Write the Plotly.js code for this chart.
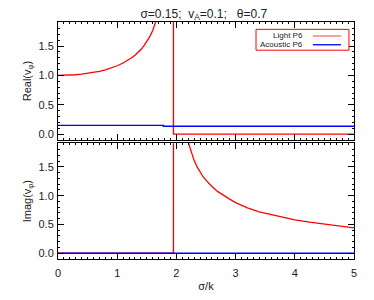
<!DOCTYPE html>
<html>
<head>
<meta charset="utf-8">
<script src="https://cdn.plot.ly/plotly-3.0.1.min.js"></script>
<style>html,body{margin:0;padding:0;background:#fff;}#chart{width:374px;height:300px;}</style>
</head>
<body>
<div id="chart"></div>
<script>
// Light P6 (real part): x = sigma/k
const lightRealX = [0, 0.1, 0.2, 0.3, 0.4, 0.5, 0.6, 0.7, 0.8, 0.9, 1.0, 1.1, 1.2, 1.25, 1.3, 1.35, 1.4, 1.45, 1.5, 1.55, 1.6, 1.65, 1.7, 1.75, 1.8, 1.85, 1.9, 1.93, 1.95, 1.95, 5.0];
const lightRealY = [1.000, 1.001, 1.005, 1.012, 1.022, 1.035, 1.051, 1.071, 1.096, 1.127, 1.165, 1.211, 1.270, 1.305, 1.345, 1.390, 1.441, 1.503, 1.575, 1.660, 1.765, 1.900, 2.06, 2.29, 2.62, 3.2, 4.5, 7.0, 20.0, 0.0, 0.0];
// Light P6 (imaginary part)
const lightImagX = [0, 1.95, 1.95, 1.97, 2.0, 2.05, 2.1, 2.15, 2.2, 2.25, 2.3, 2.35, 2.4, 2.45, 2.5, 2.6, 2.7, 2.8, 2.9, 3.0, 3.2, 3.4, 3.6, 3.8, 4.0, 4.25, 4.5, 4.75, 5.0];
const lightImagY = [0, 0, 20.0, 7.0, 4.4, 3.1, 2.5, 2.15, 1.93, 1.75, 1.61, 1.50, 1.41, 1.33, 1.27, 1.16, 1.07, 1.00, 0.94, 0.88, 0.79, 0.72, 0.67, 0.62, 0.58, 0.54, 0.505, 0.47, 0.44];
// Acoustic P6
const acRealX = [0, 1.78, 1.78, 5.0];
const acRealY = [0.15, 0.15, 0.135, 0.135];
const acImagX = [0, 5.0];
const acImagY = [0.0, 0.0];

const seriesNames = ['Light P6', 'Acoustic P6'];
const seriesColors = ['#ff0000', '#0000ff'];
const legendSampleColors = ['#ff6a6a', '#0000ff'];

const xTickVals = [0, 1, 2, 3, 4, 5];
const yTickVals = [0.0, 0.5, 1.0, 1.5];

const FONT = "'Liberation Sans', Arial, Helvetica, sans-serif";
const TXT = '#222';

const traces = [
  {x: lightRealX, y: lightRealY, xaxis: 'x', yaxis: 'y', type: 'scatter', mode: 'lines',
   line: {color: seriesColors[0], width: 1.3}, name: seriesNames[0], showlegend: false},
  {x: acRealX, y: acRealY, xaxis: 'x', yaxis: 'y', type: 'scatter', mode: 'lines',
   line: {color: seriesColors[1], width: 1.3}, name: seriesNames[1], showlegend: false},
  {x: lightImagX, y: lightImagY, xaxis: 'x2', yaxis: 'y2', type: 'scatter', mode: 'lines',
   line: {color: seriesColors[0], width: 1.3}, name: seriesNames[0], showlegend: false},
  {x: acImagX, y: acImagY, xaxis: 'x2', yaxis: 'y2', type: 'scatter', mode: 'lines',
   line: {color: seriesColors[1], width: 1.3}, name: seriesNames[1], showlegend: false}
];

function xax(showLabels, anchor) {
  return {
    range: [0, 5], anchor: anchor, tickvals: xTickVals, ticktext: xTickVals.map(String),
    ticks: 'inside', ticklen: 6, tickwidth: 1, tickcolor: '#000',
    showticklabels: showLabels, showgrid: false, zeroline: false,
    showline: true, linecolor: '#000', linewidth: 1, mirror: 'ticks',
    minor: {dtick: 0.1, ticks: 'inside', ticklen: 2, tickcolor: '#000', showgrid: false},
    tickfont: {family: FONT, size: 11, color: TXT}, ticklabelstandoff: 4
  };
}
function yax(title, domain, anchor) {
  return {
    range: [-0.1, 1.91], domain: domain, anchor: anchor, tickvals: yTickVals,
    ticktext: yTickVals.map(v => v.toFixed(1)),
    ticks: 'inside', ticklen: 6, tickwidth: 1, tickcolor: '#000',
    showgrid: false, zeroline: false,
    showline: true, linecolor: '#000', linewidth: 1, mirror: 'ticks',
    minor: {dtick: 0.1, ticks: 'inside', ticklen: 2, tickcolor: '#000', showgrid: false},
    tickfont: {family: FONT, size: 11, color: TXT}, ticklabelstandoff: 1,
    title: {text: title, font: {family: FONT, size: 11, color: TXT}, standoff: 4}
  };
}

const xa1 = xax(false, 'y');
const xa2 = xax(true, 'y2');
xa1.matches = 'x2';
xa2.title = {text: 'σ/k', font: {family: FONT, size: 11, color: TXT}, standoff: 4};

// legend built from annotations/shapes (IDL style: text left, sample right)
const legRowsY = [0.941, 0.904];
const annotations = seriesNames.map((n, i) => ({
  xref: 'paper', yref: 'paper', x: 0.836, y: legRowsY[i], xanchor: 'right', yanchor: 'middle',
  text: n, showarrow: false, font: {family: FONT, size: 8, color: TXT}
}));
const shapes = [
  {type: 'rect', xref: 'paper', yref: 'paper', x0: 0.669, x1: 0.983, y0: 0.881, y1: 0.969,
   line: {color: '#ff0000', width: 1}, fillcolor: '#fff', layer: 'above'}
].concat(seriesNames.map((n, i) => ({
  type: 'line', xref: 'paper', yref: 'paper', x0: 0.861, x1: 0.956, y0: legRowsY[i], y1: legRowsY[i],
  line: {color: legendSampleColors[i], width: 1.3}, layer: 'above'
})));

const layout = {
  width: 374, height: 300,
  margin: {l: 58, r: 20, t: 22, b: 41},
  paper_bgcolor: '#fff', plot_bgcolor: '#fff',
  font: {family: FONT, color: TXT},
  title: {text: 'σ=0.15;  v<sub>A</sub>=0.1;   θ=0.7', font: {family: FONT, size: 12, color: TXT},
          x: 0.545, xanchor: 'center', y: 0.955, yanchor: 'middle'},
  xaxis: xa1,
  yaxis: yax('Real(v<sub>φ</sub>)', [0.502, 1], 'x'),
  xaxis2: xa2,
  yaxis2: yax('Imag(v<sub>φ</sub>)', [0, 0.488], 'x2'),
  showlegend: false,
  annotations: annotations,
  shapes: shapes
};

Plotly.newPlot('chart', traces, layout, {displayModeBar: false, staticPlot: true});
</script>
</body>
</html>
